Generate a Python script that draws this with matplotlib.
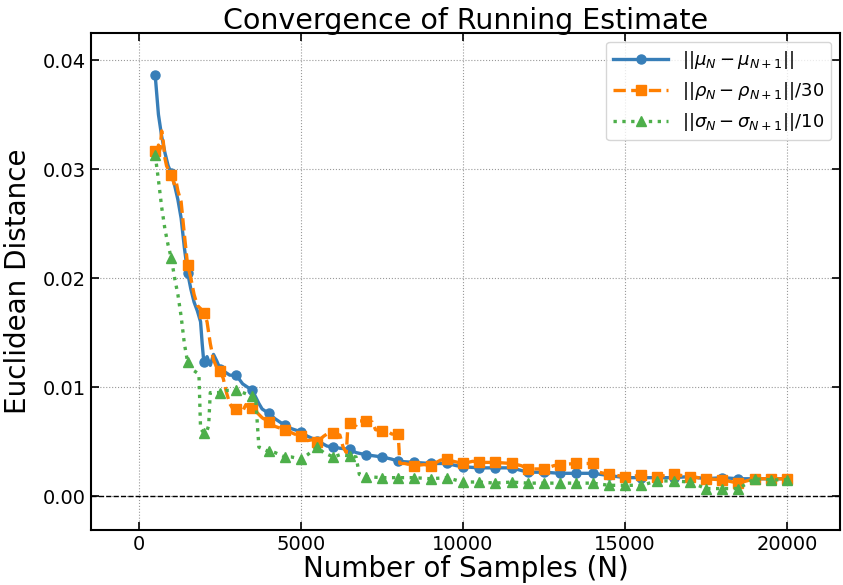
import numpy as np
import matplotlib.pyplot as plt

# ||mu_N - mu_{N+1}||
mu_n = [500, 600, 700, 800, 900, 1000, 1100, 1200, 1300, 1400, 1500, 1600, 1700, 1800,
        1900, 1950, 2000, 2100, 2200, 2300, 2400, 2500, 2600, 2800, 3000, 3200, 3400,
        3500, 3700, 3800, 4000, 4200, 4500, 4700, 5000, 5200, 5500, 5800, 6000, 6200,
        6500, 6700, 7000, 7500, 7800, 8000, 8500, 9000, 9500, 9800, 10000, 10500,
        11000, 11500, 12000, 12500, 13000, 13500, 14000, 14500, 15000, 15500, 16000,
        16500, 17000, 17500, 18000, 18500, 19000, 19500, 20000]
mu_d = [0.0386, 0.0350, 0.0330, 0.0315, 0.0303, 0.0296, 0.0285, 0.0272, 0.0255, 0.0228,
        0.0205, 0.0190, 0.0178, 0.0170, 0.0160, 0.0140, 0.0123, 0.0128, 0.0120, 0.0130,
        0.0124, 0.0117, 0.0115, 0.0111, 0.0111, 0.0103, 0.0099, 0.0097, 0.0085, 0.0080,
        0.0076, 0.0071, 0.0065, 0.0062, 0.0059, 0.0055, 0.0051, 0.0046, 0.0045, 0.0044,
        0.0043, 0.0040, 0.0038, 0.0036, 0.0034, 0.0032, 0.0031, 0.0030, 0.0030, 0.0028,
        0.0027, 0.0026, 0.0026, 0.0026, 0.0022, 0.0022, 0.0021, 0.0021, 0.0021, 0.0019,
        0.0017, 0.0017, 0.0017, 0.0017, 0.0018, 0.0016, 0.0017, 0.0016, 0.0016, 0.0016,
        0.0016]

# ||rho_N - rho_{N+1}|| / 30
rho_n = [500, 550, 600, 650, 700, 750, 800, 850, 900, 1000, 1100, 1150, 1200, 1300, 1400,
         1500, 1600, 1700, 1800, 1900, 2000, 2100, 2200, 2300, 2400, 2500, 2600, 2700,
         2800, 2900, 3000, 3200, 3300, 3400, 3500, 3700, 3800, 4000, 4200, 4500, 4800,
         5000, 5200, 5400, 5500, 5700, 5800, 6000, 6200, 6300, 6400, 6450, 6500, 6700,
         6800, 7000, 7200, 7300, 7500, 7700, 7800, 8000, 8050, 8200, 8500, 8800, 9000,
         9300, 9500, 9700, 10000, 10300, 10500, 11000, 11500, 11800, 12000, 12500,
         12800, 13000, 13500, 14000, 14200, 14500, 15000, 15500, 16000, 16500, 17000,
         17500, 18000, 18500, 19000, 19500, 20000]
rho_d = [0.0317, 0.0310, 0.0322, 0.0318, 0.0335, 0.0325, 0.0310, 0.0303, 0.0300, 0.0295,
         0.0285, 0.0288, 0.0280, 0.0270, 0.0240, 0.0212, 0.0200, 0.0185, 0.0175, 0.0172,
         0.0168, 0.0160, 0.0140, 0.0125, 0.0118, 0.0115, 0.0108, 0.0095, 0.0085, 0.0080,
         0.0080, 0.0078, 0.0084, 0.0081, 0.0081, 0.0075, 0.0072, 0.0068, 0.0064, 0.0061,
         0.0057, 0.0055, 0.0051, 0.0052, 0.0050, 0.0055, 0.0057, 0.0058, 0.0056, 0.0045,
         0.0040, 0.0066, 0.0067, 0.0065, 0.0069, 0.0069, 0.0068, 0.0061, 0.0060, 0.0059,
         0.0057, 0.0057, 0.0030, 0.0030, 0.0028, 0.0029, 0.0028, 0.0033, 0.0034, 0.0032,
         0.0030, 0.0032, 0.0031, 0.0031, 0.0030, 0.0028, 0.0025, 0.0025, 0.0028, 0.0029,
         0.0030, 0.0030, 0.0022, 0.0020, 0.0018, 0.0019, 0.0018, 0.0020, 0.0018, 0.0016,
         0.0015, 0.0012, 0.0016, 0.0016, 0.0016]

# ||sigma_N - sigma_{N+1}|| / 10
sig_n = [500, 600, 700, 800, 900, 1000, 1100, 1200, 1300, 1400, 1500, 1600, 1700, 1800,
         1850, 1900, 2000, 2100, 2150, 2200, 2300, 2500, 2700, 3000, 3200, 3500, 3600,
         3700, 4000, 4200, 4500, 4700, 5000, 5200, 5500, 5700, 6000, 6200, 6500, 6700,
         6800, 7000, 7500, 8000, 8500, 9000, 9500, 10000, 10500, 11000, 11500, 12000,
         12500, 13000, 13500, 14000, 14500, 15000, 15500, 16000, 16500, 17000, 17500,
         18000, 18500, 19000, 19500, 20000]
sig_d = [0.0313, 0.0290, 0.0265, 0.0245, 0.0230, 0.0218, 0.0200, 0.0185, 0.0165, 0.0140,
         0.0123, 0.0118, 0.0115, 0.0113, 0.0112, 0.0062, 0.0058, 0.0060, 0.0065, 0.0095,
         0.0095, 0.0095, 0.0097, 0.0097, 0.0095, 0.0092, 0.0090, 0.0045, 0.0041, 0.0040,
         0.0036, 0.0036, 0.0034, 0.0038, 0.0045, 0.0040, 0.0036, 0.0038, 0.0037, 0.0036,
         0.0020, 0.0018, 0.0017, 0.0017, 0.0017, 0.0016, 0.0017, 0.0013, 0.0013, 0.0012,
         0.0013, 0.0012, 0.0012, 0.0012, 0.0012, 0.0012, 0.0010, 0.0010, 0.0010, 0.0014,
         0.0014, 0.0013, 0.0007, 0.0007, 0.0007, 0.0016, 0.0015, 0.0015]


def every_500(ns):
    return [i for i, n in enumerate(ns) if n % 500 == 0]


fig = plt.figure(figsize=(8.43, 5.85), dpi=100)
ax = fig.add_axes([0.108, 0.094, 0.889, 0.850])

ax.plot(mu_n, mu_d, "-o", color="#377eb8", lw=2.4, ms=6.5, markevery=every_500(mu_n),
        label=r"$||\mu_N - \mu_{N+1}||$")
ax.plot(rho_n, rho_d, "--s", color="#ff7f00", lw=2.4, ms=6.5, markevery=every_500(rho_n),
        label=r"$||\rho_N - \rho_{N+1}||/30$")
ax.plot(sig_n, sig_d, ":^", color="#4daf4a", lw=2.4, ms=6.5, markevery=every_500(sig_n),
        label=r"$||\sigma_N - \sigma_{N+1}||/10$")
ax.axhline(0, color="black", ls="--", lw=1)

ax.set_xlim(-1480, 21650)
ax.set_ylim(-0.0031, 0.0425)
ax.set_xticks([0, 5000, 10000, 15000, 20000])
ax.set_yticks([0.0, 0.01, 0.02, 0.03, 0.04])
ax.grid(True, color="#999999", ls=":", lw=0.8)
ax.tick_params(direction="in", top=True, right=True, labelsize=14, length=6, width=1.2)
for s in ax.spines.values():
    s.set_linewidth(1.5)

ax.set_title("Convergence of Running Estimate", fontsize=20.5, pad=3)
ax.set_xlabel("Number of Samples (N)", fontsize=20, labelpad=1)
ax.set_ylabel("Euclidean Distance", fontsize=20, labelpad=8)
ax.legend(loc="upper right", fontsize=13, handlelength=3)

fig.savefig("out.png", dpi=100)
